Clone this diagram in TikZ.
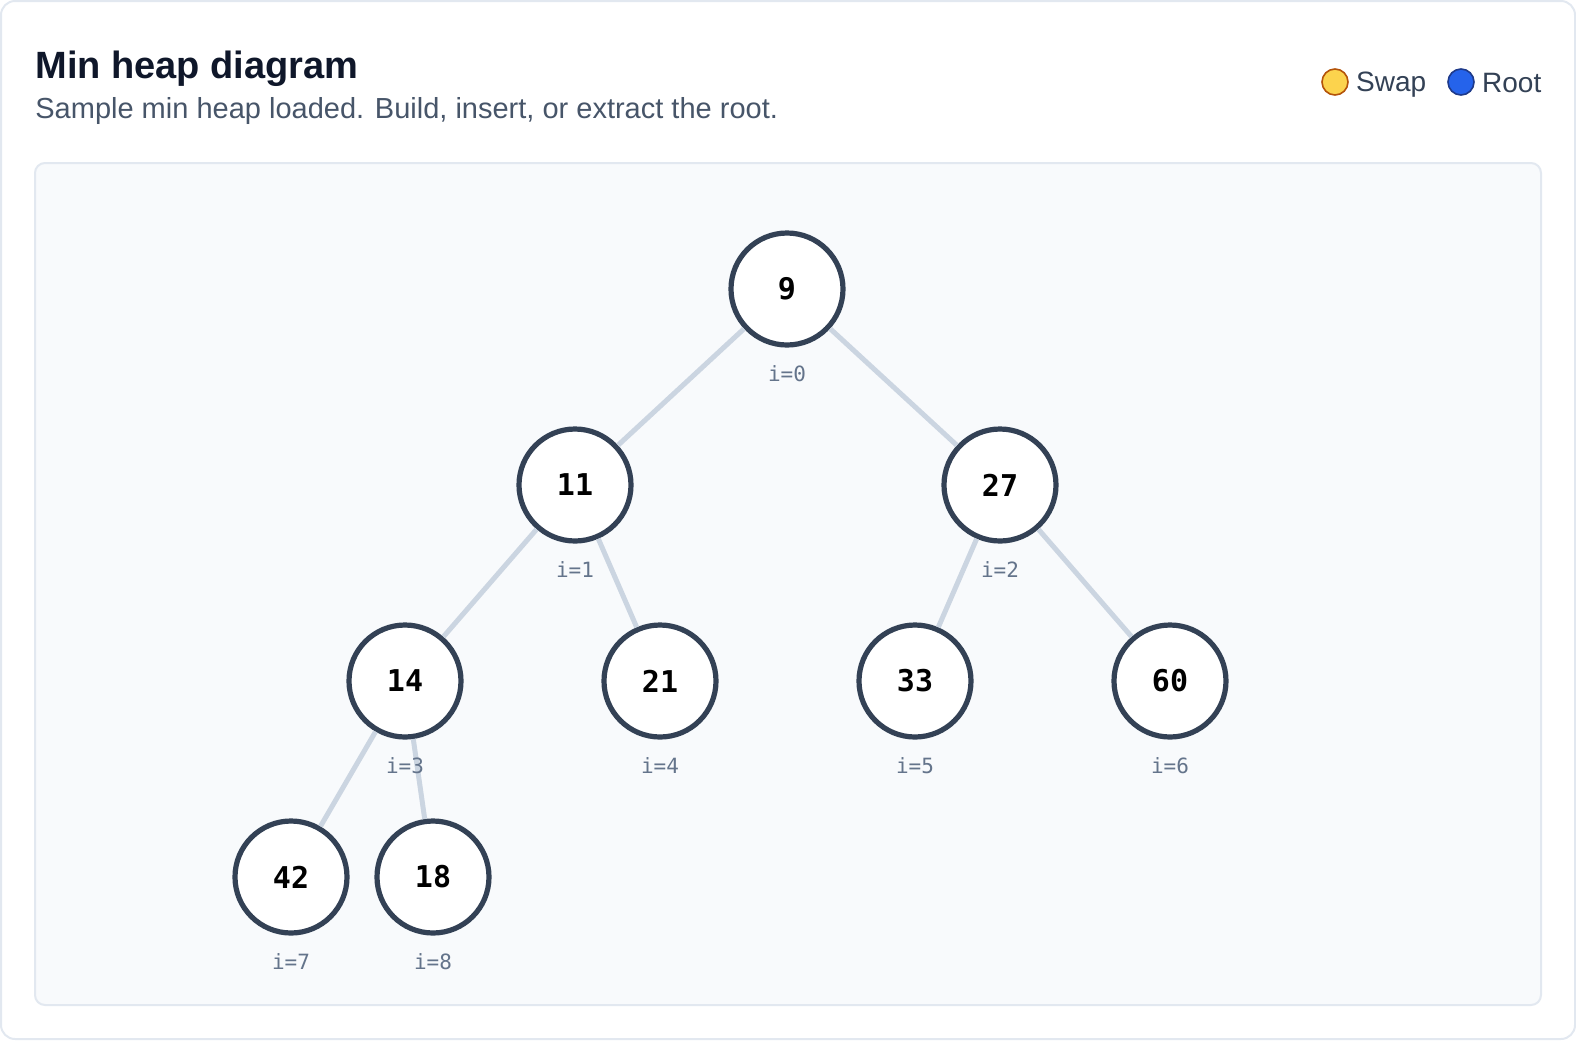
\documentclass[tikz,border=0pt]{standalone}
\usepackage{fontspec}
\setmainfont{Liberation Sans}
\setmonofont{DejaVu Sans Mono}
\usetikzlibrary{positioning}

\definecolor{titlecol}{HTML}{0F172A}
\definecolor{subcol}{HTML}{475569}
\definecolor{ringcol}{HTML}{334155}
\definecolor{edgecol}{HTML}{CBD5E1}
\definecolor{idxcol}{HTML}{64748B}
\definecolor{panelfill}{HTML}{F8FAFC}
\definecolor{panelline}{HTML}{E2E8F0}
\definecolor{swapfill}{HTML}{FCD34D}
\definecolor{swapline}{HTML}{B45309}
\definecolor{rootfill}{HTML}{2563EB}
\definecolor{rootline}{HTML}{1E3A8A}

\begin{document}
\begin{tikzpicture}[
  x=0.5pt, y=-0.5pt,
  heapnode/.style={
    circle, draw=ringcol, line width=2.6pt, fill=white,
    minimum size=56pt, inner sep=0pt,
    font=\ttfamily\bfseries\fontsize{15pt}{17pt}\selectfont, text=black
  },
  idx/.style={
    inner sep=0pt, text=idxcol,
    font=\ttfamily\fontsize{10.5pt}{12pt}\selectfont
  },
  link/.style={line width=2.5pt, draw=edgecol},
  legdot/.style={circle, line width=0.8pt, minimum size=13pt, inner sep=0pt},
  legtext/.style={inner sep=0pt, text=ringcol, font=\fontsize{14pt}{16pt}\selectfont}
]

% Card and panel
\useasboundingbox (0,0) rectangle (1576,1040);
\draw[panelline, line width=1pt, fill=white, rounded corners=7pt] (1,1) rectangle (1575,1039);
\draw[panelline, line width=1pt, fill=panelfill, rounded corners=5pt] (35,163) rectangle (1541,1005);

% Header
\node[anchor=base west, inner sep=0pt, text=titlecol,
  font=\bfseries\fontsize{19pt}{23pt}\selectfont] (title) at (35,78) {Min heap diagram};
\node[anchor=base west, inner sep=0pt, text=subcol,
  font=\fontsize{14.5pt}{17pt}\selectfont] (subtitle) at (35,118)
  {Sample min heap loaded. Build, insert, or extract the root.};

% Legend
\node[legdot, fill=swapfill, draw=swapline] (swapdot) at (1335,82) {};
\node[legtext, right=3.5pt of swapdot, yshift=-1.5pt] (swaptxt) {Swap};
\node[legdot, fill=rootfill, draw=rootline] (rootdot) at (1461,82) {};
\node[legtext, right=3.5pt of rootdot, yshift=-0.5pt] (roottxt) {Root};

% Heap nodes
\node[heapnode] (n0) at (787,289) {9};
\node[heapnode] (n1) at (575,485) {11};
\node[heapnode] (n2) at (1000,485) {27};
\node[heapnode] (n3) at (405,681) {14};
\node[heapnode] (n4) at (660,681) {21};
\node[heapnode] (n5) at (915,681) {33};
\node[heapnode] (n6) at (1170,681) {60};
\node[heapnode] (n7) at (291,877) {42};
\node[heapnode] (n8) at (433,877) {18};

% Parent-child links
\draw[link] (n0) -- (n1);
\draw[link] (n0) -- (n2);
\draw[link] (n1) -- (n3);
\draw[link] (n1) -- (n4);
\draw[link] (n2) -- (n5);
\draw[link] (n2) -- (n6);
\draw[link] (n3) -- (n7);
\draw[link] (n3) -- (n8);

% Index labels
\node[idx, below=9pt of n0] (i0) {i=0};
\node[idx, below=9pt of n1] (i1) {i=1};
\node[idx, below=9pt of n2] (i2) {i=2};
\node[idx, below=9pt of n3] (i3) {i=3};
\node[idx, below=9pt of n4] (i4) {i=4};
\node[idx, below=9pt of n5] (i5) {i=5};
\node[idx, below=9pt of n6] (i6) {i=6};
\node[idx, below=9pt of n7] (i7) {i=7};
\node[idx, below=9pt of n8] (i8) {i=8};

\end{tikzpicture}
\end{document}
